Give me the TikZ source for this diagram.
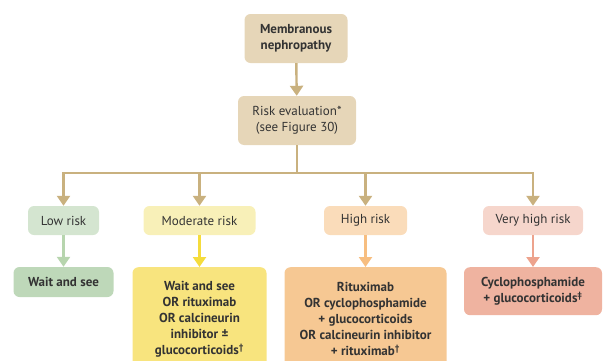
\documentclass[tikz,border=0pt]{standalone}
\usepackage{fontspec}
\setmainfont{PT Sans}
\usetikzlibrary{arrows.meta, positioning}

\definecolor{tanfill}{HTML}{E6D6B8}
\definecolor{tanline}{HTML}{C9B17F}
\definecolor{lowfill}{HTML}{D4E5D0}
\definecolor{lowline}{HTML}{B7D5AE}
\definecolor{lowtx}{HTML}{BED8B9}
\definecolor{modfill}{HTML}{F8F0B8}
\definecolor{modline}{HTML}{F5DC3C}
\definecolor{modtx}{HTML}{F8E47E}
\definecolor{highfill}{HTML}{FADCBA}
\definecolor{highline}{HTML}{F7BE80}
\definecolor{hightx}{HTML}{F6C893}
\definecolor{vhfill}{HTML}{F6D6CC}
\definecolor{vhline}{HTML}{EDA38D}
\definecolor{vhtx}{HTML}{EFB3A0}
\definecolor{ink}{HTML}{333333}

\begin{document}
\begin{tikzpicture}[x=1pt, y=1pt,
  >={Triangle[width=13pt, length=10pt]},
  box/.style={rounded corners=6pt, align=center, text=ink, inner sep=0pt,
    font=\fontsize{13}{16}\selectfont},
  lvl/.style={box, minimum height=29pt},
  tx/.style={box, font=\fontsize{13}{16}\selectfont\bfseries},
  arr/.style={->, line width=2.4pt}]
\useasboundingbox (0,0) rectangle (613,360);

\node[tx, fill=tanfill, minimum width=103pt, minimum height=49pt] (mn) at (296,321.5) {Membranous\\nephropathy};
\node[box, fill=tanfill, minimum width=118pt, minimum height=49pt] (risk) at (297,239.5) {Risk evaluation*\\(see Figure 30)};

\node[lvl, fill=lowfill,  minimum width=71pt]  (low)  at (63.5,139.5) {Low risk};
\node[lvl, fill=modfill,  minimum width=112pt] (mod)  at (199.5,139.5) {Moderate risk};
\node[lvl, fill=highfill, minimum width=83pt]  (high) at (365.5,139.5) {High risk};
\node[lvl, fill=vhfill,   minimum width=100pt] (vh)   at (533,139.5) {Very high risk};

\node[tx, fill=lowtx, minimum width=100pt, minimum height=30pt] (wait) at (63.5,78) {Wait and see};
\node[tx, fill=modtx, minimum width=134pt, minimum height=104pt, anchor=north] (modrx) at (199.5,93)
  {Wait and see\\OR rituximab\\OR calcineurin\\inhibitor ±\\glucocorticoids\textsuperscript{\dag}};
\node[tx, fill=hightx, minimum width=162pt, minimum height=104pt, anchor=north] (highrx) at (365.5,93)
  {Rituximab\\OR cyclophosphamide\\+ glucocorticoids\\OR calcineurin inhibitor\\+ rituximab\textsuperscript{\dag}};
\node[tx, fill=vhtx, minimum width=138pt, minimum height=48pt, anchor=north] (vhrx) at (533,93)
  {Cyclophosphamide\\+ glucocorticoids\textsuperscript{\ddag}};

\coordinate (split) at (297,187);
\draw[arr, tanline] (mn) -- (risk);
\draw[line width=2.4pt, tanline] (risk) -- (split);
\draw[arr, tanline] (split) -| (low);
\draw[arr, tanline] (split) -| (mod);
\draw[arr, tanline] (split) -| (high);
\draw[arr, tanline] (split) -| (vh);

\draw[arr, lowline]  (low) -- (wait);
\draw[arr, modline]  (mod) -- (modrx);
\draw[arr, highline] (high) -- (highrx);
\draw[arr, vhline]   (vh) -- (vhrx);
\end{tikzpicture}
\end{document}
